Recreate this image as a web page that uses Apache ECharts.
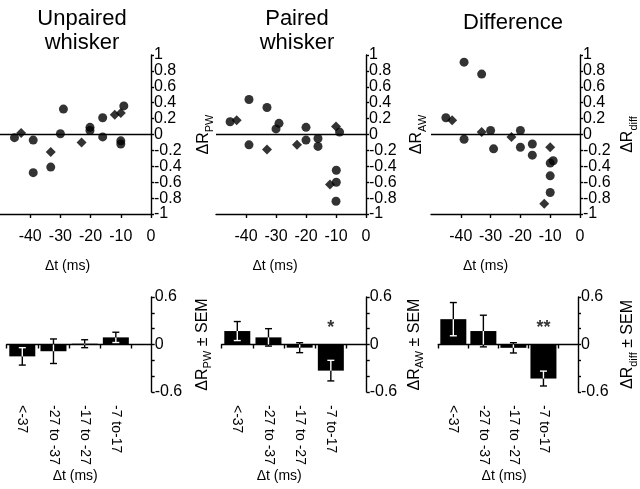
<!DOCTYPE html>
<html><head><meta charset="utf-8">
<script src="https://cdn.jsdelivr.net/npm/echarts@6/dist/echarts.min.js"></script>
<style>html,body{margin:0;padding:0;background:#fff}#c{width:640px;height:489px}</style>
</head><body><div id="c"></div>
<script>
// ---------- data ----------
const panelTitles = ['Unpaired\nwhisker', 'Paired\nwhisker', 'Difference'];
const topYNames = ['PW', 'AW', 'diff'];
const xTicksTop = [-50, -40, -30, -20, -10, 0];

const unpairedCircles = [[-45.2,-0.04],[-39,-0.07],[-39,-0.48],[-33.2,-0.41],[-30,0.01],[-29,0.32],[-20.2,0.09],[-20.2,0.05],[-16,0.21],[-16,-0.03],[-9,0.36],[-10,-0.08],[-10,-0.12]];
const unpairedDiamonds = [[-43,0.02],[-33.2,-0.22],[-23,-0.10],[-12,0.25],[-10,0.27]];
const pairedCircles = [[-45.3,0.16],[-39,0.44],[-39,-0.13],[-33,0.34],[-30,0.07],[-29,0.14],[-20,0.09],[-20,-0.07],[-16,-0.05],[-16,-0.15],[-8.8,0.03],[-9.9,-0.45],[-9.9,-0.60],[-10,-0.84]];
const pairedDiamonds = [[-43.1,0.18],[-33,-0.19],[-23,-0.13],[-10,0.10],[-12,-0.63]];
const diffCircles = [[-38.9,0.91],[-33,0.76],[-45,0.21],[-38.9,-0.06],[-30,0.05],[-29,-0.18],[-20,0.05],[-20,-0.16],[-16,-0.12],[-16,-0.26],[-9,-0.33],[-10,-0.36],[-10,-0.52],[-10,-0.73]];
const diffDiamonds = [[-42.9,0.18],[-33,0.03],[-23,-0.03],[-10,-0.16],[-12,-0.87]];

const categories = ['<-37', '-27 to -37', '-17 to -27', '-7 to-17'];
const unpairedMeans = [-0.15, -0.085, 0.01, 0.09];
const unpairedSem   = [0.11, 0.155, 0.05, 0.065];
const pairedMeans   = [0.17, 0.09, -0.04, -0.33];
const pairedSem     = [0.12, 0.11, 0.063, 0.13];
const diffMeans     = [0.32, 0.17, -0.042, -0.43];
const diffSem       = [0.21, 0.20, 0.065, 0.094];
const pairedSig = [[3, 0.21, '*']];
const diffSig   = [[3, 0.21, '**']];

// ---------- layout / style ----------
const FONT = 'Liberation Sans';
const topGrids = [
  {left: 0, top: 55, width: 151, height: 159},
  {left: 216, top: 55, width: 150, height: 159},
  {left: 431, top: 55, width: 151, height: 159}
];
const botGrids = [
  {left: 6.7, top: 297, width: 145, height: 95},
  {left: 221.7, top: 297, width: 145, height: 95},
  {left: 438.3, top: 297, width: 144, height: 95}
];
const titlePos = [[77, 2], [292, 2], [508, 6]];
const topNameGap = [42, 40, 37];
const botNameGap = [40, 37, 39];
const topXNameShift = [16, 32, 40];
const botXNameShift = [8, 30, 8];

const circles = [unpairedCircles, pairedCircles, diffCircles];
const diamonds = [unpairedDiamonds, pairedDiamonds, diffDiamonds];
const means = [unpairedMeans, pairedMeans, diffMeans];
const sems = [unpairedSem, pairedSem, diffSem];
const sigs = [[], pairedSig, diffSig];

const AX = {color: '#000', width: 1.4};
const fmt1 = v => String(+(+v).toFixed(1));

function yName(sub, extra) {
  return '{a|ΔR}{b|' + sub + '}' + (extra ? '{a|' + extra + '}' : '');
}
const nameRich = {
  a: {fontFamily: FONT, fontSize: 16, color: '#000', lineHeight: 22},
  b: {fontFamily: FONT, fontSize: 11, color: '#000', lineHeight: 11, verticalAlign: 'bottom'}
};

const grid = [], xAxis = [], yAxis = [], series = [], title = [];

for (let i = 0; i < 3; i++) {
  grid.push(Object.assign({containLabel: false}, topGrids[i]));
  title.push({
    text: panelTitles[i], left: titlePos[i][0], top: titlePos[i][1], textAlign: 'center',
    textStyle: {fontFamily: FONT, fontSize: 22, fontWeight: 'normal', color: '#000', lineHeight: 24}
  });
  xAxis.push({
    gridIndex: i, type: 'value', min: xTicksTop[0], max: xTicksTop[xTicksTop.length - 1], interval: 10,
    position: 'bottom',
    axisLine: {show: true, onZero: false, lineStyle: AX},
    axisTick: {show: true, inside: false, length: 4, lineStyle: AX},
    axisLabel: {showMinLabel: false, margin: 15, fontFamily: FONT, fontSize: 16, color: '#000'},
    splitLine: {show: false},
    name: 'Δt (ms)', nameLocation: 'middle', nameGap: 45,
    nameTextStyle: {fontFamily: FONT, fontSize: 14, color: '#000', padding: [0, topXNameShift[i], 0, 0]}
  });
  yAxis.push({
    gridIndex: i, type: 'value', min: -1, max: 1, interval: 0.2, position: 'right',
    axisLine: {show: true, onZero: false, lineStyle: AX},
    axisTick: {show: true, inside: false, length: 3, lineStyle: AX},
    axisLabel: {margin: 3, fontFamily: FONT, fontSize: 16, color: '#000', formatter: fmt1},
    splitLine: {show: false},
    name: yName(topYNames[i]), nameLocation: 'middle', nameRotate: 90, nameGap: topNameGap[i],
    nameTextStyle: {rich: nameRich}
  });
  series.push({
    type: 'scatter', xAxisIndex: i, yAxisIndex: i, symbol: 'circle', symbolSize: 9,
    itemStyle: {color: '#000'}, data: circles[i], z: 3,
    markLine: {silent: true, symbol: ['none', 'none'], label: {show: false},
      lineStyle: {color: '#000', type: 'solid', width: 1.4}, data: [{yAxis: 0}]}
  });
  series.push({
    type: 'scatter', xAxisIndex: i, yAxisIndex: i, symbol: 'diamond', symbolSize: 10,
    itemStyle: {color: '#000'}, data: diamonds[i], z: 3
  });
}

function renderErr(params, api) {
  const x = api.value(0), m = api.value(1), e = api.value(2);
  const lo = m - e, hi = m + e;
  const b0 = Math.min(0, m), b1 = Math.max(0, m);
  const pHi = api.coord([x, hi]), pLo = api.coord([x, lo]);
  const black = {stroke: '#000', lineWidth: 1.4};
  const white = {stroke: '#fff', lineWidth: 1.4};
  const ch = [{type: 'line', shape: {x1: pHi[0], y1: pHi[1], x2: pLo[0], y2: pLo[1]}, style: black}];
  const iLo = Math.max(lo, b0), iHi = Math.min(hi, b1);
  if (iHi > iLo) {
    const a = api.coord([x, iHi]), b = api.coord([x, iLo]);
    ch.push({type: 'line', shape: {x1: a[0], y1: a[1], x2: b[0], y2: b[1]}, style: white});
  }
  [hi, lo].forEach(v => {
    const p = api.coord([x, v]);
    const inside = v > b0 && v < b1;
    ch.push({type: 'line', shape: {x1: p[0] - 3.5, y1: p[1], x2: p[0] + 3.5, y2: p[1]}, style: inside ? white : black});
  });
  return {type: 'group', children: ch};
}

for (let i = 0; i < 3; i++) {
  const g = 3 + i;
  grid.push(Object.assign({containLabel: false}, botGrids[i]));
  xAxis.push({
    gridIndex: g, type: 'value', min: -0.5, max: 4.15, position: 'bottom',
    axisLine: {show: true, onZero: true, lineStyle: AX},
    axisTick: {show: true, inside: false, length: 4, lineStyle: AX, customValues: [-0.5, 0.5, 1.5, 2.5, 3.5]},
    axisLabel: {show: false}, splitLine: {show: false}
  });
}
for (let i = 0; i < 3; i++) {
  const g = 3 + i;
  xAxis.push({
    gridIndex: g, type: 'value', min: -0.5, max: 4.15, position: 'bottom',
    axisLine: {show: false, onZero: false}, axisTick: {show: false}, splitLine: {show: false},
    axisLabel: {show: true, customValues: [0, 1, 2, 3], formatter: v => categories[Math.round(v)],
      rotate: -90, margin: 13, fontFamily: FONT, fontSize: 14, color: '#000'},
    name: 'Δt (ms)', nameLocation: 'middle', nameGap: 74,
    nameTextStyle: {fontFamily: FONT, fontSize: 14, color: '#000', padding: [0, botXNameShift[i], 0, 0]}
  });
}
for (let i = 0; i < 3; i++) {
  const g = 3 + i;
  yAxis.push({
    gridIndex: g, type: 'value', min: -0.6, max: 0.6, interval: 0.2, position: 'right',
    axisLine: {show: true, onZero: false, lineStyle: AX},
    axisTick: {show: true, inside: false, length: 3, lineStyle: AX},
    axisLabel: {margin: 3, fontFamily: FONT, fontSize: 16, color: '#000',
      formatter: v => (Math.abs(Math.abs(v) - 0.6) < 1e-6 || Math.abs(v) < 1e-6) ? fmt1(v) : ''},
    splitLine: {show: false},
    name: yName(topYNames[i], ' ± SEM'), nameLocation: 'middle', nameRotate: 90, nameGap: botNameGap[i],
    nameTextStyle: {rich: nameRich}
  });
  const barData = means[i].map((m, k) => [k, m]);
  const errData = means[i].map((m, k) => [k, m, sems[i][k]]);
  series.push({
    type: 'bar', xAxisIndex: 3 + i, yAxisIndex: 3 + i, data: barData, barWidth: 26,
    itemStyle: {color: '#000'}, z: 2
  });
  series.push({
    type: 'custom', xAxisIndex: 3 + i, yAxisIndex: 3 + i, data: errData, renderItem: renderErr, z: 4
  });
  if (sigs[i].length) {
    series.push({
      type: 'scatter', xAxisIndex: 3 + i, yAxisIndex: 3 + i, symbolSize: 1,
      itemStyle: {color: 'rgba(0,0,0,0)'},
      data: sigs[i].map(s => ({value: [s[0], s[1]], name: s[2]})),
      label: {show: true, position: 'inside', formatter: p => p.name,
        fontFamily: FONT, fontSize: 18, fontWeight: 'bold', color: '#000'}
    });
  }
}

const chart = echarts.init(document.getElementById('c'), null, {renderer: 'canvas'});
chart.setOption({animation: false, backgroundColor: '#fff', title, grid, xAxis, yAxis, series});
</script></body></html>
